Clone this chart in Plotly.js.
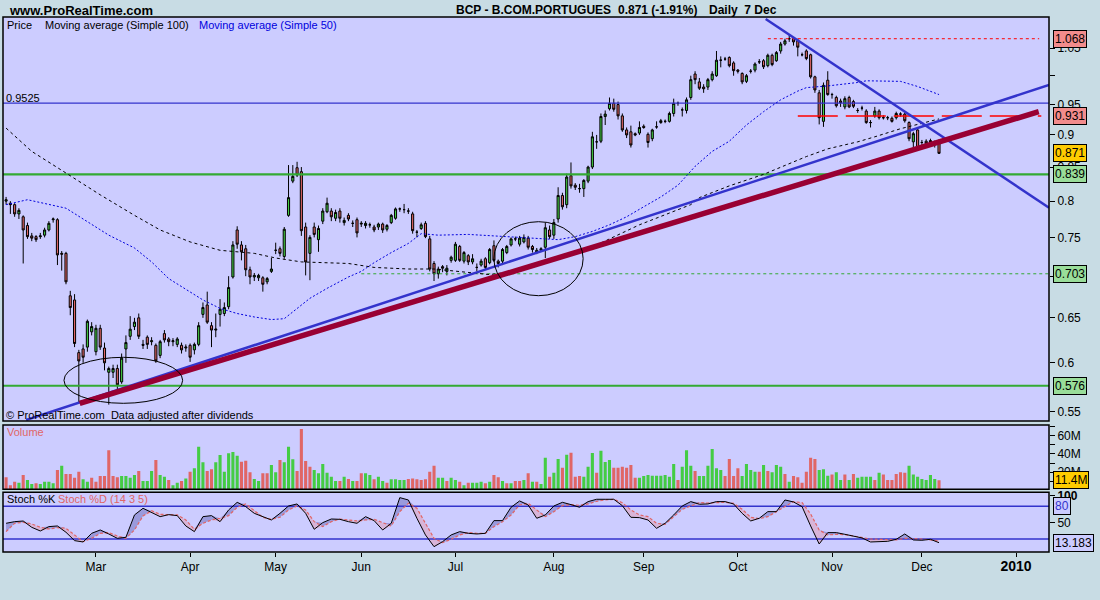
<!DOCTYPE html>
<html><head><meta charset="utf-8">
<script src="https://cdn.plot.ly/plotly-3.0.1.min.js"></script>
<style>html,body{margin:0;padding:0;background:#C8DCE4;}#chart{width:1100px;height:600px;}</style>
</head><body><div id="chart"></div>
<script>
// ---------- DATA (trading-day index 0 = 30 Jan 2009 ... 218 = 7 Dec 2009) ----------
const open = [0.800,0.797,0.795,0.782,0.778,0.766,0.752,0.751,0.751,0.753,
0.760,0.774,0.774,0.729,0.729,0.676,0.671,0.611,0.615,0.617,
0.634,0.612,0.638,0.616,0.590,0.590,0.594,0.580,0.615,0.629,
0.640,0.650,0.620,0.628,0.623,0.619,0.608,0.632,0.626,0.623,
0.620,0.619,0.616,0.619,0.614,0.620,0.654,0.665,0.641,0.636,
0.654,0.655,0.663,0.699,0.760,0.740,0.735,0.708,0.699,0.698,
0.698,0.693,0.706,0.733,0.735,0.725,0.780,0.829,0.849,0.843,
0.764,0.729,0.764,0.747,0.772,0.785,0.786,0.776,0.786,0.770,
0.780,0.769,0.774,0.768,0.766,0.767,0.764,0.764,0.768,0.761,
0.770,0.776,0.789,0.788,0.786,0.782,0.757,0.762,0.769,0.748,
0.716,0.703,0.712,0.706,0.720,0.720,0.738,0.719,0.726,0.718,
0.711,0.714,0.722,0.717,0.739,0.719,0.719,0.730,0.740,0.748,
0.741,0.744,0.749,0.738,0.730,0.733,0.737,0.760,0.753,0.775,
0.808,0.795,0.837,0.823,0.818,0.818,0.829,0.850,0.889,0.890,
0.930,0.943,0.952,0.950,0.931,0.908,0.905,0.902,0.903,0.914,
0.901,0.894,0.913,0.920,0.922,0.922,0.935,0.952,0.941,0.940,
0.962,1.003,0.989,0.980,0.980,0.993,1.000,1.028,1.030,1.033,
1.023,1.010,1.004,0.990,1.008,1.010,1.025,1.027,1.018,1.037,
1.027,1.045,1.058,1.068,1.068,1.064,1.038,1.045,1.038,0.998,
0.970,0.922,0.992,0.967,0.962,0.956,0.946,0.962,0.955,0.940,
0.944,0.939,0.920,0.931,0.939,0.928,0.928,0.927,0.928,0.934,
0.934,0.920,0.889,0.908,0.888,0.890,0.891,0.887,0.890];
const high = [0.806,0.800,0.797,0.790,0.780,0.770,0.756,0.753,0.756,0.763,
0.772,0.777,0.776,0.732,0.731,0.682,0.678,0.614,0.620,0.648,
0.645,0.642,0.642,0.622,0.596,0.598,0.598,0.610,0.630,0.652,
0.650,0.655,0.625,0.630,0.628,0.621,0.625,0.636,0.628,0.627,
0.628,0.622,0.620,0.621,0.622,0.645,0.668,0.681,0.645,0.655,
0.672,0.668,0.700,0.745,0.765,0.745,0.740,0.712,0.704,0.703,
0.700,0.699,0.723,0.743,0.738,0.764,0.853,0.853,0.858,0.850,
0.770,0.753,0.770,0.766,0.790,0.805,0.790,0.788,0.790,0.777,
0.783,0.773,0.777,0.772,0.772,0.770,0.767,0.770,0.770,0.768,
0.782,0.791,0.791,0.796,0.790,0.785,0.760,0.770,0.772,0.752,
0.719,0.712,0.714,0.714,0.726,0.744,0.740,0.732,0.728,0.728,
0.716,0.722,0.724,0.736,0.746,0.721,0.736,0.740,0.750,0.751,
0.752,0.754,0.752,0.740,0.736,0.737,0.770,0.766,0.775,0.820,
0.812,0.840,0.857,0.826,0.825,0.832,0.852,0.905,0.900,0.935,
0.940,0.962,0.960,0.955,0.935,0.912,0.915,0.904,0.922,0.917,
0.904,0.910,0.922,0.926,0.925,0.938,0.960,0.955,0.945,0.962,
1.000,1.008,0.996,0.985,0.996,1.008,1.045,1.035,1.034,1.035,
1.026,1.012,1.006,1.003,1.012,1.024,1.030,1.030,1.040,1.040,
1.045,1.062,1.068,1.075,1.070,1.068,1.042,1.048,1.040,1.000,
0.975,0.988,1.008,0.970,0.965,0.960,0.964,0.965,0.958,0.944,
0.948,0.942,0.924,0.946,0.942,0.932,0.931,0.930,0.938,0.937,
0.937,0.922,0.905,0.912,0.892,0.893,0.894,0.891,0.893];
const low = [0.795,0.782,0.778,0.775,0.716,0.748,0.745,0.744,0.748,0.750,
0.758,0.770,0.714,0.707,0.690,0.653,0.617,0.559,0.600,0.612,
0.630,0.608,0.614,0.592,0.557,0.584,0.572,0.578,0.600,0.625,
0.636,0.626,0.615,0.615,0.619,0.600,0.605,0.622,0.618,0.618,
0.617,0.610,0.612,0.601,0.609,0.618,0.650,0.643,0.617,0.628,
0.640,0.652,0.660,0.697,0.735,0.720,0.700,0.690,0.694,0.694,
0.681,0.690,0.704,0.728,0.725,0.722,0.778,0.826,0.835,0.752,
0.701,0.695,0.750,0.731,0.768,0.783,0.772,0.772,0.770,0.766,
0.772,0.764,0.750,0.764,0.762,0.763,0.757,0.760,0.756,0.758,
0.768,0.774,0.785,0.783,0.782,0.755,0.750,0.760,0.749,0.706,
0.694,0.697,0.705,0.701,0.717,0.718,0.718,0.716,0.714,0.715,
0.706,0.712,0.709,0.715,0.718,0.711,0.714,0.728,0.738,0.745,
0.738,0.742,0.734,0.730,0.728,0.731,0.723,0.748,0.748,0.770,
0.788,0.790,0.818,0.816,0.812,0.806,0.826,0.847,0.878,0.887,
0.916,0.940,0.938,0.925,0.905,0.895,0.880,0.898,0.900,0.910,
0.880,0.890,0.910,0.918,0.919,0.920,0.930,0.948,0.930,0.935,
0.958,0.985,0.975,0.970,0.975,0.990,0.998,1.015,1.027,1.015,
1.000,1.004,0.985,0.987,1.004,1.006,1.021,1.012,1.015,1.017,
1.025,1.040,1.055,1.062,1.055,1.035,1.035,1.028,0.995,0.970,
0.917,0.913,0.965,0.960,0.945,0.946,0.942,0.944,0.944,0.936,
0.940,0.918,0.912,0.928,0.925,0.925,0.924,0.920,0.925,0.930,
0.920,0.890,0.880,0.877,0.878,0.883,0.885,0.880,0.870];
const close = [0.802,0.795,0.782,0.787,0.760,0.751,0.749,0.747,0.752,0.760,
0.769,0.775,0.727,0.728,0.693,0.662,0.621,0.602,0.606,0.646,
0.640,0.638,0.617,0.600,0.594,0.594,0.577,0.605,0.622,0.637,
0.645,0.629,0.619,0.620,0.624,0.602,0.623,0.625,0.623,0.624,
0.626,0.614,0.617,0.606,0.620,0.641,0.662,0.645,0.636,0.637,
0.660,0.662,0.686,0.740,0.741,0.731,0.708,0.699,0.701,0.701,
0.690,0.697,0.709,0.733,0.729,0.761,0.805,0.836,0.838,0.759,
0.718,0.750,0.754,0.762,0.786,0.797,0.778,0.784,0.776,0.773,
0.775,0.769,0.756,0.769,0.769,0.767,0.760,0.768,0.760,0.766,
0.780,0.789,0.789,0.788,0.786,0.759,0.757,0.767,0.751,0.709,
0.703,0.709,0.710,0.710,0.724,0.741,0.720,0.730,0.718,0.722,
0.711,0.719,0.711,0.734,0.720,0.716,0.734,0.738,0.748,0.748,
0.749,0.750,0.737,0.734,0.733,0.735,0.763,0.751,0.770,0.808,
0.792,0.835,0.822,0.820,0.818,0.830,0.850,0.897,0.889,0.930,
0.934,0.952,0.942,0.931,0.908,0.900,0.884,0.900,0.912,0.912,
0.888,0.908,0.913,0.923,0.922,0.935,0.952,0.952,0.941,0.958,
0.993,0.993,0.978,0.977,0.993,1.003,1.028,1.028,1.030,1.018,
1.009,1.008,0.989,1.000,1.008,1.021,1.025,1.016,1.037,1.020,
1.042,1.058,1.064,1.068,1.062,1.052,1.038,1.031,0.998,0.975,
0.928,0.983,0.967,0.967,0.948,0.953,0.960,0.946,0.947,0.940,
0.944,0.920,0.920,0.939,0.928,0.928,0.928,0.922,0.935,0.934,
0.923,0.894,0.902,0.880,0.888,0.886,0.888,0.887,0.871];

// volume, millions
const volumeM = [14.5,6,9.8,8.7,17,11.6,7.3,8,7.3,9.8,
9.8,8,22.5,27,18,18,14,20.7,12.4,9.8,
14,9.8,16,16,44,16,14.5,16,16,14,
17,21.4,10.5,10.5,21.4,33.4,17,15.2,11.6,6,
8.7,10.5,13.3,20.7,24.3,47.8,30.8,21.4,23.2,30.8,
38.8,20.7,40.6,42,38,31.5,32.6,20,12.7,10.5,
18.9,18.9,28,20,33.4,30.8,47.8,34.1,21.4,67,
32.3,26,22.5,18.9,29,19.5,15.2,10.5,10.5,15.2,
12.7,10.5,10.5,18.9,18.9,17,12.4,15.2,10.5,8.7,
12.4,12.4,11.6,11.6,12.7,13.3,12.4,11.6,12.4,20.7,
27,14,14,10.5,14,11.6,9.8,6,8.7,8.7,
8.7,9.8,8,9.8,17,14.5,10.5,8,8,10.5,
10.5,11.6,18.9,9.8,9.8,7.3,35.9,15.2,19.5,34.5,
25,39.1,41.3,15.2,16,15.2,26,41,19.5,43.5,
31.2,33.4,25,25,26,25,28,14,14,16,
17,16.3,16.3,16.3,17,15.2,29,11.6,26,44,
27,21.4,16,16,27,45.3,24.3,22.5,16,34.5,
16,24.3,16,29,22.5,20.7,20.7,28,21.4,20,
28,26,18,9.8,16,14.5,8.7,20.7,35.9,34.5,
22.5,23.2,16.3,17.7,20,11.6,17.7,11.6,18,14,
15.2,15.2,15.2,11.6,19.5,17.7,11.6,11.6,18,20,
19.5,27,17.7,15.2,12.7,11.6,17,12.7,11.4];
const volumeDir = "RRRGRGGRGGGGRGRRRRGGRRRRRRRGGGGRGGGRGGRGGRGRGGGRRGGGGGGRRRGGRRGGRGGGRRRRGGGGGGRGRGRRGGRGGRGGGGRRRRRRRGGRGGRGRGGGRGRRGRGRRGRGRGGRGGRGRRRGGGRGGGRRRRRRGGGGGGGGGRGGGRGGGGGGRRRRGGGGRGRGGGRGRRRRRRGGGRGGRGRGGGGRGRRRRRRGGGGGGGR";

// Stochastic (14 3 5), sampled every 2nd trading day
const stochDay = [0,2,4,6,8,10,12,14,16,18,20,22,24,26,28,30,32,34,36,38,40,42,44,46,48,50,52,54,56,58,
60,62,64,66,68,70,72,74,76,78,80,82,84,86,88,90,92,94,96,98,100,102,104,106,108,110,112,114,116,118,
120,122,124,126,128,130,132,134,136,138,140,142,144,146,148,150,152,154,156,158,160,162,164,166,168,170,172,174,176,178,
180,182,184,186,188,190,192,194,196,198,200,202,204,206,208,210,212,214,216,218];
const stochK = [48.8,51.8,53,41.4,34.7,42.7,43.9,32.3,17,14.5,
30.4,36.5,29.2,21.2,23.1,64.1,76.3,68.4,61,64.7,
62.9,43.9,33.5,61,62.9,51.8,73.3,87.3,79.4,67.1,
61,54.9,67.1,80.6,84.3,67.1,37.8,50,56.7,56.1,
51.8,48.8,61,53.7,36.5,48.8,95.9,91.6,58,27.4,
5.9,15.1,27.4,33.5,30.4,29.2,30.4,53.7,53.7,78.2,
89.8,82.4,58,64.1,80.6,87.3,83.1,78.2,88.6,92.9,
92.9,92.9,81.2,59.8,59.2,54.9,39.6,48.8,64.1,80.6,
88.6,83.7,84.3,88.6,88.6,84.3,67.1,53.1,58,70.2,
70.2,91.6,88,79.4,43.9,10.8,31.7,31.7,28.6,25.5,
21.9,14.5,15.1,15.7,19.4,29.2,18.2,17.6,19.4,13.18];
const stochD = [33.5,48.8,50.6,47.6,41.4,38.4,40.8,39.6,27.4,15.1,
21.2,30.4,31.7,25.5,21.2,36.5,62.3,72,65.3,64.1,
64.1,54.9,37.8,48.8,54.9,58,62.9,78.2,84.3,72,
59.8,56.1,59.8,73.3,80.6,73.3,51.8,42.7,51.8,56.7,
54.9,53.1,54.9,56.1,50,43.9,70.2,85.5,76.3,48.8,
21.2,13.3,19.4,27.4,31.7,30.4,30.4,42.7,51.8,64.1,
82.4,85.5,73.3,61,70.2,81.2,83.1,81.8,84.3,89.2,
91.6,92.9,86.7,73.3,64.1,61,48.8,47,61,74.5,
80.6,86.7,86.1,86.7,87.3,85.5,74.5,59.8,57.4,61,
70.2,80.6,88.6,86.7,65.9,36.5,27.4,28.6,28,25.5,
23.1,20,19.4,18.8,18.2,21.2,21.2,20,18.2,17];

// Moving averages
const ma50Day = [0,5,14,20,24,30,34,38,43,46,50,54,58,62,65,68,71,75,80,83,86,90,94,97,101,108,118,129,133,137,141,145,149,153,157,161,165,169,173,177,181,185,187,192,199,201,209,213,218];
const ma50 = [0.795,0.802,0.790,0.767,0.753,0.736,0.718,0.697,0.681,0.671,0.661,0.655,0.651,0.648,0.649,0.661,0.673,0.685,0.699,0.706,0.717,0.730,0.742,0.755,0.753,0.754,0.751,0.747,0.751,0.758,0.767,0.778,0.792,0.806,0.823,0.851,0.874,0.890,0.916,0.938,0.958,0.973,0.979,0.982,0.988,0.991,0.990,0.981,0.967];
const ma100Day = [0,6,14,22,30,36,43,50,58,63,69,80,86,94,100,109,113,120,138,148,160,162,169,177,182,187,192,199,203,209,213,218];
const ma100 = [0.911,0.874,0.841,0.809,0.780,0.760,0.744,0.733,0.729,0.723,0.718,0.716,0.711,0.709,0.709,0.704,0.702,0.707,0.740,0.767,0.795,0.805,0.822,0.839,0.853,0.866,0.878,0.889,0.897,0.910,0.917,0.926];

// Drawn lines / levels
const levelBlue = 0.9525;
const levelGreen = [0.839, 0.576];
const levelGreenDash = 0.703, levelGreenDashFrom = 83;
const levelRedDot = 1.068, levelRedDotDays = [178, 241.4];
const levelRedDash = 0.931, levelRedDashDays = [185, 241.9];
const trendRedX = [17.2, 241.3], trendRedY = [0.5583, 0.938];
const trendBlueX = [4.7, 243.7], trendBlueY = [0.542, 0.9837];
const trendDownX = [177.5, 243.7], trendDownY = [1.1063, 0.7907];

const lastPrice = 0.871, lastVolumeM = 11.4, lastStoch = 13.183;
const monthTickDay = [21,43,63,83,105,128,149,171,193,214,236];
const monthTickText = ['Mar','Apr','May','Jun','Jul','Aug','Sep','Oct','Nov','Dec','<span style="font-size:14px"><b>2010</b></span>'];
const priceTicks = [0.55,0.6,0.65,0.7,0.75,0.8,0.85,0.9,0.95,1.0,1.05];
const priceTickText = ['0.55','0.6','0.65','','0.75','0.8','0.85','0.9','0.95','','1.05'];

// ---------- LAYOUT GEOMETRY ----------
const PL=3, PR=1049.3, PT=17, PB=552;
const fx = px => (px-PL)/(PR-PL);
const fy = py => (PB-py)/(PB-PT);
const DOM_MAIN=[fy(421),1], DOM_VOL=[fy(489.3),fy(425)], DOM_ST=[0,fy(492.3)];
const R_MAIN=[Math.log10(0.541),Math.log10(1.1101)];
const R_VOL=[1.5e6,71.4e6], R_ST=[-3.9,105.7];
const mainY = v => DOM_MAIN[0]+(Math.log10(v)-R_MAIN[0])/(R_MAIN[1]-R_MAIN[0])*(DOM_MAIN[1]-DOM_MAIN[0]);
const volY = v => DOM_VOL[0]+(v-R_VOL[0])/(R_VOL[1]-R_VOL[0])*(DOM_VOL[1]-DOM_VOL[0]);
const stY = v => DOM_ST[0]+(v-R_ST[0])/(R_ST[1]-R_ST[0])*(DOM_ST[1]-DOM_ST[0]);
const XR=[-0.72,243.7];

const days = open.map((_,i)=>i);
const GREEN='#44CC44', RED='#E06666', BLUE='#3333CC';

const traces = [];
traces.push({type:'candlestick', x:days, open:open, high:high, low:low, close:close,
  xaxis:'x', yaxis:'y', hoverinfo:'skip', whiskerwidth:0,
  increasing:{line:{color:'#000',width:1}, fillcolor:GREEN},
  decreasing:{line:{color:'#000',width:1}, fillcolor:RED}});
const hline = (y, x0, x1, color, width, dash, ax) => ({type:'scatter', mode:'lines', x:[x0,x1], y:[y,y],
  xaxis:'x', yaxis:ax||'y', line:{color:color,width:width,dash:dash||'solid'}, hoverinfo:'skip'});
traces.push(hline(levelBlue, -2, 250, BLUE, 1.2));
levelGreen.forEach(v=>traces.push(hline(v, -2, 250, '#33AA33', 2.2)));
traces.push(hline(levelGreenDash, levelGreenDashFrom, 250, '#33AA33', 1, '3px,3px'));
traces.push(hline(levelRedDot, levelRedDotDays[0], levelRedDotDays[1], '#FF0000', 1, '3px,3px'));
traces.push(hline(levelRedDash, levelRedDashDays[0], levelRedDashDays[1], '#FF0000', 1.5, '40px,8px'));
traces.push({type:'scatter', mode:'lines', x:ma100Day, y:ma100, xaxis:'x', yaxis:'y', line:{color:'#000',width:1,dash:'3px,3px'}, hoverinfo:'skip'});
traces.push({type:'scatter', mode:'lines', x:ma50Day, y:ma50, xaxis:'x', yaxis:'y', line:{color:'#0000DD',width:1,dash:'2px,2px'}, hoverinfo:'skip'});
traces.push({type:'scatter', mode:'lines', x:trendBlueX, y:trendBlueY, xaxis:'x', yaxis:'y', line:{color:BLUE,width:2.5}, hoverinfo:'skip'});
traces.push({type:'scatter', mode:'lines', x:trendDownX, y:trendDownY, xaxis:'x', yaxis:'y', line:{color:BLUE,width:2.5}, hoverinfo:'skip'});
traces.push({type:'scatter', mode:'lines', x:trendRedX, y:trendRedY, xaxis:'x', yaxis:'y', line:{color:'#990033',width:5.5}, hoverinfo:'skip'});
traces.push({type:'bar', x:days, y:volumeM.map(v=>v*1e6), xaxis:'x', yaxis:'y2', width:0.72,
  marker:{color:volumeDir.split('').map(c=>c==='G'?GREEN:RED), line:{width:0}}, hoverinfo:'skip'});
const stHi = stochK.map((k,j)=>Math.max(k,stochD[j]));
const stLo = stochK.map((k,j)=>Math.min(k,stochD[j]));
traces.push({type:'scatter', mode:'lines', x:stochDay, y:stochD, xaxis:'x', yaxis:'y3', line:{width:0,color:'rgba(0,0,0,0)'}, hoverinfo:'skip'});
traces.push({type:'scatter', mode:'lines', x:stochDay, y:stHi, xaxis:'x', yaxis:'y3', fill:'tonexty', fillcolor:'#9A9ADC', line:{width:0,color:'rgba(0,0,0,0)'}, hoverinfo:'skip'});
traces.push({type:'scatter', mode:'lines', x:stochDay, y:stochD, xaxis:'x', yaxis:'y3', line:{width:0,color:'rgba(0,0,0,0)'}, hoverinfo:'skip'});
traces.push({type:'scatter', mode:'lines', x:stochDay, y:stLo, xaxis:'x', yaxis:'y3', fill:'tonexty', fillcolor:'#D8B4D8', line:{width:0,color:'rgba(0,0,0,0)'}, hoverinfo:'skip'});
traces.push(hline(80, -2, 250, BLUE, 1.5, 'solid', 'y3'));
traces.push(hline(20, -2, 250, BLUE, 1.5, 'solid', 'y3'));
traces.push({type:'scatter', mode:'lines', x:stochDay, y:stochD, xaxis:'x', yaxis:'y3', line:{color:RED,width:1.2,dash:'3px,2px'}, hoverinfo:'skip'});
traces.push({type:'scatter', mode:'lines', x:stochDay, y:stochK, xaxis:'x', yaxis:'y3', line:{color:'#000',width:1}, hoverinfo:'skip'});

const shapes = [];
[DOM_MAIN, DOM_VOL, DOM_ST].forEach(d=>{
  shapes.push({type:'rect', xref:'paper', yref:'paper', x0:0, x1:1, y0:d[0], y1:d[1], fillcolor:'#CCCCFF', line:{width:0}, layer:'below'});
  shapes.push({type:'rect', xref:'paper', yref:'paper', x0:0, x1:1, y0:d[0], y1:d[1], line:{color:'#000', width:1.5}, layer:'above'});
});
shapes.push({type:'circle', xref:'paper', yref:'paper', x0:fx(64), x1:fx(182.7), y0:fy(403.3), y1:fy(357.3), line:{color:'#000',width:1}});
shapes.push({type:'circle', xref:'paper', yref:'paper', x0:fx(494), x1:fx(583.3), y0:fy(295.7), y1:fy(221.7), line:{color:'#000',width:1}});

const FONT='Liberation Sans, Arial, sans-serif';
const ann = [];
const txt = (px, py, text, size, color, extra) => Object.assign({xref:'paper', yref:'paper', x:fx(px), y:fy(py), text:text,
  showarrow:false, xanchor:'left', yanchor:'middle', font:{family:FONT, size:size, color:color||'#000'}}, extra||{});
ann.push(txt(7, 10, '<b>www.ProRealTime.com</b>', 13));
ann.push(txt(454, 10, '<b>BCP - B.COM.PORTUGUES</b>', 12));
ann.push(txt(616, 10, '<b>0.871 (-1.91%)</b>', 12));
ann.push(txt(707, 10, '<b>Daily  7 Dec</b>', 12));
ann.push(txt(5, 25, 'Price', 11));
ann.push(txt(43, 25, 'Moving average (Simple 100)', 11));
ann.push(txt(197, 25, 'Moving average (Simple 50)', 11, '#0000DD'));
ann.push(txt(4, 97.5, '0.9525', 11));
ann.push(txt(4, 415, '© ProRealTime.com  Data adjusted after dividends', 11));
ann.push(txt(5, 432, 'Volume', 11, RED));
ann.push(txt(5, 499, 'Stoch %K', 11));
ann.push(txt(56, 499, 'Stoch %D (14 3 5)', 11, RED));
const box = (yp, text, bg, color) => ({xref:'paper', yref:'paper', x:fx(1053.5), y:yp, text:text, showarrow:false,
  xanchor:'left', yanchor:'middle', bgcolor:bg, bordercolor:'#000', borderwidth:1, borderpad:1,
  font:{family:FONT, size:12, color:color||'#000'}});
ann.push(box(mainY(levelRedDot), levelRedDot.toFixed(3), '#F28C8C'));
ann.push(box(mainY(levelRedDash), levelRedDash.toFixed(3), '#F28C8C'));
ann.push(box(mainY(lastPrice), lastPrice.toFixed(3), '#FFCC00'));
ann.push(box(mainY(levelGreen[0]), levelGreen[0].toFixed(3), '#99DD99'));
ann.push(box(mainY(levelGreenDash), levelGreenDash.toFixed(3), '#99DD99'));
ann.push(box(mainY(levelGreen[1]), levelGreen[1].toFixed(3), '#99DD99'));
ann.push(box(volY(lastVolumeM*1e6), lastVolumeM.toFixed(1)+'M', '#FFCC00'));
ann.push(box(stY(80), '80', '#CCCCFF', '#3333CC'));
ann.push(box(stY(lastStoch), lastStoch.toFixed(3), '#CCCCFF'));

const axCommon = {showgrid:false, zeroline:false, showline:false, ticks:'outside', ticklen:5, tickcolor:'#000', tickwidth:1,
  tickfont:{family:FONT, size:12, color:'#000'}, fixedrange:true};
const layout = {
  width:1100, height:600, margin:{l:PL, r:1100-PR, t:PT, b:600-PB, pad:0},
  paper_bgcolor:'#C8DCE4', plot_bgcolor:'rgba(0,0,0,0)', showlegend:false, hovermode:false,
  font:{family:FONT, size:12, color:'#000'}, bargap:0.28,
  xaxis:Object.assign({}, axCommon, {range:XR, anchor:'y3', tickvals:monthTickDay, ticktext:monthTickText, ticklen:4, rangeslider:{visible:false}}),
  yaxis:Object.assign({}, axCommon, {type:'log', domain:DOM_MAIN, range:R_MAIN, side:'right', anchor:'x', tickvals:priceTicks, ticktext:priceTickText}),
  yaxis2:Object.assign({}, axCommon, {domain:DOM_VOL, range:R_VOL, side:'right', anchor:'x',
    tickvals:[10e6,20e6,30e6,40e6,50e6,60e6,70e6], ticktext:['','20M','','40M','','60M','']}),
  yaxis3:Object.assign({}, axCommon, {domain:DOM_ST, range:R_ST, side:'right', anchor:'x', tickvals:[50,100], ticktext:['50','<b>100</b>']}),
  shapes:shapes, annotations:ann
};
Plotly.newPlot('chart', traces, layout, {staticPlot:true, displayModeBar:false});
</script>
</body></html>
